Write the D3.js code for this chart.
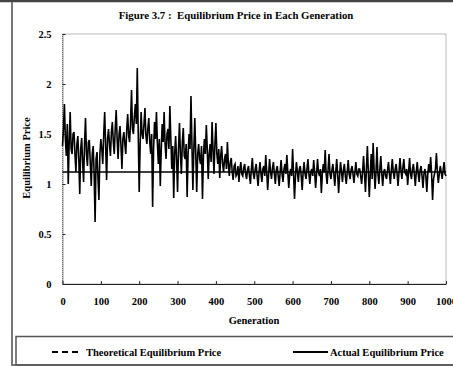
<!DOCTYPE html>
<html>
<head>
<meta charset="utf-8">
<script src="https://cdn.jsdelivr.net/npm/d3@7"></script>
<style>
  body { margin: 0; background: #fff; }
  svg { display: block; }
  text { font-family: "Liberation Serif", "Times New Roman", serif; font-weight: bold; fill: #000; white-space: pre; }
</style>
</head>
<body>
<svg id="chart" width="453" height="366"></svg>
<script>
// data (one value every 2.5 generations)
const genStep = 2.5;
const actualPrice = [
  1.38,1.55,1.80,1.45,1.28,1.60,1.00,1.42,1.72,1.35,1.30,1.50,1.52,1.30,1.12,1.40,1.48,1.25,0.90,1.35,
  1.46,1.22,1.02,1.40,1.66,1.30,1.18,1.42,1.44,1.20,0.98,1.30,1.38,1.10,0.62,1.25,1.32,1.05,0.84,1.30,
  1.45,1.35,1.20,1.50,1.72,1.38,1.04,1.45,1.55,1.40,1.28,1.52,1.62,1.42,1.30,1.55,1.74,1.45,1.25,1.50,
  1.58,1.38,1.15,1.45,1.52,1.40,1.30,1.55,1.70,1.48,1.42,1.62,1.94,1.55,1.50,1.68,1.80,1.60,2.16,1.50,
  0.92,1.40,1.72,1.50,1.45,1.60,1.76,1.48,1.40,1.55,1.66,1.42,1.30,1.50,0.77,1.35,1.62,1.45,1.72,1.40,
  1.20,1.45,0.98,1.35,1.60,1.42,1.72,1.40,1.25,1.50,1.55,1.35,1.78,1.45,1.15,1.38,0.86,1.30,1.48,1.25,
  0.92,1.35,1.61,1.30,1.10,1.42,1.56,1.28,1.25,1.40,0.87,1.30,1.50,1.35,1.88,1.40,0.94,1.35,1.66,1.30,
  0.92,1.30,1.40,1.25,1.20,1.38,0.85,1.28,1.45,1.30,1.59,1.35,1.05,1.30,1.40,1.22,1.62,1.35,1.10,1.40,
  1.61,1.30,1.20,1.35,1.06,1.28,1.38,1.20,1.12,1.25,1.30,1.15,1.42,1.20,1.08,1.22,1.26,1.12,1.04,1.18,
  1.20,1.08,1.10,1.18,1.02,1.15,1.22,1.10,1.08,1.16,1.20,1.10,1.05,1.14,1.18,1.08,1.00,1.15,1.26,1.10,
  1.05,1.15,1.20,1.08,0.98,1.12,1.22,1.10,1.02,1.15,1.18,1.08,1.29,1.12,0.94,1.10,1.25,1.12,1.05,1.16,
  1.22,1.10,1.00,1.14,1.18,1.08,0.98,1.12,1.24,1.10,1.02,1.15,1.20,1.10,1.29,1.12,0.96,1.10,1.15,1.08,
  1.35,1.10,0.85,1.08,1.22,1.12,1.02,1.15,1.18,1.08,0.94,1.12,1.22,1.10,1.05,1.15,1.25,1.10,1.00,1.12,
  1.15,1.08,1.24,1.12,0.96,1.10,1.25,1.12,1.08,1.15,0.91,1.10,1.20,1.12,1.34,1.10,1.00,1.14,1.30,1.10,
  1.05,1.14,1.20,1.10,0.98,1.12,1.25,1.10,0.91,1.08,1.22,1.12,1.02,1.14,1.20,1.08,1.00,1.12,1.24,1.10,
  1.05,1.14,1.18,1.10,1.01,1.12,1.22,1.10,1.08,1.15,1.15,1.08,1.00,1.12,1.28,1.10,0.92,1.15,1.38,1.12,
  0.87,1.10,1.30,1.05,1.41,1.15,0.95,1.12,1.37,1.10,1.00,1.15,1.28,1.10,0.98,1.12,1.15,1.08,1.05,1.14,
  1.22,1.10,1.00,1.14,1.25,1.12,1.05,1.15,1.20,1.10,0.98,1.12,1.26,1.14,1.05,1.16,1.25,1.12,1.10,1.15,
  0.99,1.12,1.26,1.10,1.05,1.15,1.20,1.10,0.98,1.12,1.22,1.10,1.02,1.14,1.18,1.08,0.96,1.10,1.15,1.08,
  0.92,1.10,1.20,1.12,1.27,1.10,0.84,1.05,1.10,1.15,1.31,1.12,1.01,1.10,1.18,1.12,1.05,1.14,1.22,1.10,
  1.08
];
const theoreticalPrice = 1.12;
const xTicks = [0, 100, 200, 300, 400, 500, 600, 700, 800, 900, 1000];
const xTickLabels = ["0", "100", "200", "300", "400", "500", "600", "700", "800", "900", "1000"];
const yTicks = [0, 0.5, 1, 1.5, 2, 2.5];
const yTickLabels = ["0", "0.5", "1", "1.5", "2", "2.5"];

const svg = d3.select("#chart");
const W = 453, H = 366;
const plot = { left: 62.5, right: 446, top: 34, bottom: 284 };

// outer frame
svg.append("line").attr("x1", 0).attr("x2", W).attr("y1", 1).attr("y2", 1)
  .attr("stroke", "#444").attr("stroke-width", 2.5);
svg.append("line").attr("x1", 12).attr("x2", 12).attr("y1", 2).attr("y2", H)
  .attr("stroke", "#777").attr("stroke-width", 2);
svg.append("line").attr("x1", 12).attr("x2", W).attr("y1", 365).attr("y2", 365)
  .attr("stroke", "#777").attr("stroke-width", 2);

const x = d3.scaleLinear().domain([0, 1000]).range([plot.left, plot.right]);
const y = d3.scaleLinear().domain([0, 2.5]).range([plot.bottom, plot.top]);

// plot border (dotted)
svg.append("rect")
  .attr("x", plot.left).attr("y", plot.top)
  .attr("width", plot.right - plot.left).attr("height", plot.bottom - plot.top)
  .attr("fill", "none").attr("stroke", "#777").attr("stroke-width", 1)
  .attr("stroke-dasharray", "1,1");

// axes
const xAxis = svg.append("g")
  .attr("transform", `translate(0,${plot.bottom})`)
  .call(d3.axisBottom(x).tickValues(xTicks).tickFormat((d, i) => xTickLabels[i])
    .tickSizeInner(-3).tickSizeOuter(0).tickPadding(14));
xAxis.select(".domain").attr("stroke", "#222").attr("stroke-width", 1.2);
xAxis.selectAll(".tick line").attr("stroke", "#222");
xAxis.selectAll("text").attr("font-size", "10.5px").attr("font-family", "Liberation Serif").attr("font-weight", "bold");

const yAxis = svg.append("g")
  .attr("transform", `translate(${plot.left},0)`)
  .call(d3.axisLeft(y).tickValues(yTicks).tickFormat((d, i) => yTickLabels[i])
    .tickSizeInner(-3).tickSizeOuter(0).tickPadding(11));
yAxis.select(".domain").attr("stroke", "#333").attr("stroke-width", 1).attr("stroke-dasharray", "1,1");
yAxis.selectAll(".tick line").attr("stroke", "#222");
yAxis.selectAll("text").attr("font-size", "10.5px").attr("font-family", "Liberation Serif").attr("font-weight", "bold");

// theoretical equilibrium
svg.append("line")
  .attr("x1", x(0)).attr("x2", x(1000))
  .attr("y1", y(theoreticalPrice)).attr("y2", y(theoreticalPrice))
  .attr("stroke", "#000").attr("stroke-width", 1.6);

// actual equilibrium
const line = d3.line()
  .x((d, i) => x(i * genStep))
  .y(d => y(d));
svg.append("path")
  .datum(actualPrice)
  .attr("fill", "none")
  .attr("stroke", "#000")
  .attr("stroke-width", 1.6)
  .attr("d", line);

// title and labels
svg.append("text")
  .attr("x", 236).attr("y", 19)
  .attr("text-anchor", "middle")
  .attr("font-size", "10.8px")
  .text("Figure 3.7 :  Equilibrium Price in Each Generation");

svg.append("text")
  .attr("x", 254).attr("y", 324)
  .attr("text-anchor", "middle")
  .attr("font-size", "10.5px")
  .text("Generation");

svg.append("text")
  .attr("transform", "translate(30,158) rotate(-90)")
  .attr("text-anchor", "middle")
  .attr("font-size", "10.5px")
  .text("Equilibrium Price");

// legend
svg.append("rect")
  .attr("x", 16).attr("y", 336.5).attr("width", W).attr("height", 28.5)
  .attr("fill", "none").attr("stroke", "#555").attr("stroke-width", 1.5);

svg.append("line")
  .attr("x1", 52).attr("x2", 82).attr("y1", 352).attr("y2", 352)
  .attr("stroke", "#000").attr("stroke-width", 2).attr("stroke-dasharray", "6,4");
svg.append("text")
  .attr("x", 86).attr("y", 355.5)
  .attr("font-size", "10.5px")
  .text("Theoretical Equilibrium Price");

svg.append("line")
  .attr("x1", 293).attr("x2", 328).attr("y1", 352).attr("y2", 352)
  .attr("stroke", "#000").attr("stroke-width", 2);
svg.append("text")
  .attr("x", 330).attr("y", 355.5)
  .attr("font-size", "10.5px")
  .text("Actual Equilibrium Price");
</script>
</body>
</html>
